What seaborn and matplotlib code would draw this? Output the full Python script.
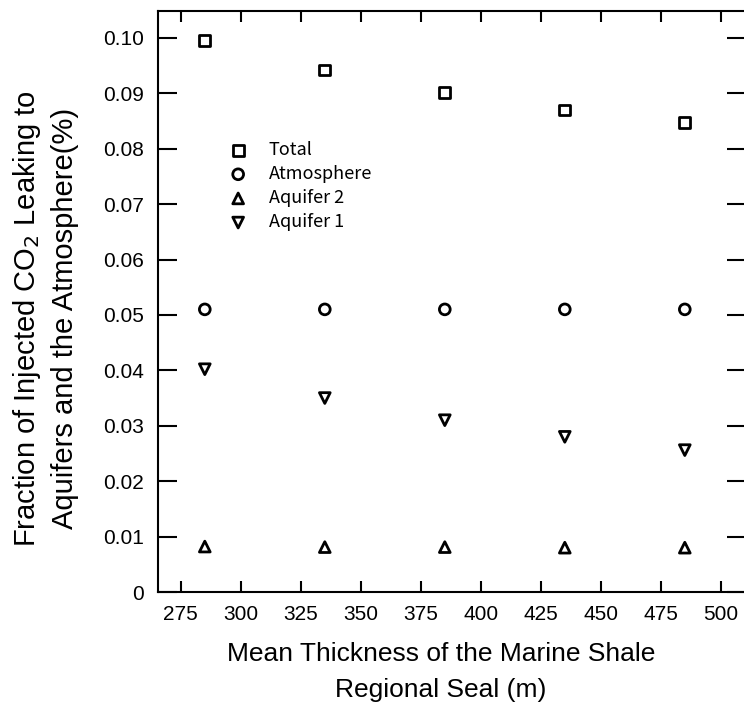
import numpy as np
import pandas as pd
import matplotlib
matplotlib.use("Agg")
import matplotlib.pyplot as plt
import seaborn as sns

sns.set_style("ticks")
plt.rcParams["font.family"] = ["Liberation Sans", "DejaVu Sans"]
plt.rcParams["text.color"] = "black"
plt.rcParams["axes.labelcolor"] = "black"
plt.rcParams["xtick.color"] = "black"
plt.rcParams["ytick.color"] = "black"

# data
thickness = [285, 335, 385, 435, 485]
total = [0.0995, 0.0942, 0.0902, 0.0870, 0.0847]
atmosphere = [0.0510, 0.0510, 0.0510, 0.0510, 0.0510]
aquifer2 = [0.0082, 0.0081, 0.0081, 0.0080, 0.0080]
aquifer1 = [0.0402, 0.0350, 0.0310, 0.0280, 0.0256]

series = ["Total", "Atmosphere", "Aquifer 2", "Aquifer 1"]
markers = {"Total": "s", "Atmosphere": "o", "Aquifer 2": "^", "Aquifer 1": "v"}
values = {"Total": total, "Atmosphere": atmosphere,
          "Aquifer 2": aquifer2, "Aquifer 1": aquifer1}

df = pd.DataFrame([(t, v, name) for name in series
                   for t, v in zip(thickness, values[name])],
                  columns=["thickness", "fraction", "series"])

my_dpi = 100
fig = plt.figure(figsize=(744 / my_dpi, 702 / my_dpi), dpi=my_dpi)
ax = fig.add_axes([158 / 744, 1 - 592 / 702, 588 / 744, (592 - 10.7) / 702])

for name in series:
    sub = df[df.series == name]
    sns.scatterplot(x="thickness", y="fraction", data=sub, ax=ax,
                    marker=markers[name], s=60, facecolor="none",
                    edgecolor="black", linewidth=2, label=name)

ax.set_xlim(265.5, 510.5)
ax.set_ylim(0, 0.1049)
ax.set_xticks(np.arange(275, 501, 25))
yt = np.arange(0, 0.1001, 0.01)
ax.set_yticks(yt)
ax.set_yticklabels(["0"] + ["%.2f" % v for v in yt[1:]])

ax.tick_params(axis="x", direction="in", length=8, width=1.5, top=True,
               labelsize=15, pad=9)
ax.tick_params(axis="y", direction="in", length=14, width=1.5, right=True,
               labelsize=15, pad=10)
for sp in ax.spines.values():
    sp.set_linewidth(1.5)
    sp.set_color("black")

ax.set_xlabel("Mean Thickness of the Marine Shale\nRegional Seal (m)",
              fontsize=19, linespacing=1.65)
ax.xaxis.set_label_coords(0.481, -0.0855)
ax.xaxis.label.set_va("top")
ax.set_ylabel("Fraction of Injected CO$_2$ Leaking to\nAquifers and the Atmosphere(%)",
              fontsize=21, linespacing=1.38)
ax.yaxis.set_label_coords(-0.134, 0.471)

leg = ax.legend(loc="upper left", bbox_to_anchor=(0.078, 0.804), frameon=False,
                handletextpad=0.68, labelspacing=0.34,
                prop={"family": ["Noto Sans CJK JP", "DejaVu Sans"], "size": 13})

fig.savefig("out.png", dpi=my_dpi)
